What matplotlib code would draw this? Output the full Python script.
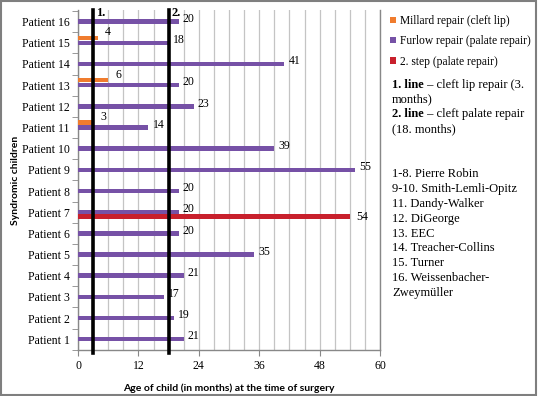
import numpy as np
import matplotlib.pyplot as plt
from matplotlib.patches import Rectangle

patients = [f"Patient {i}" for i in range(1, 17)]
furlow = [21, 19, 17, 21, 35, 20, 20, 20, 55, 39, 14, 23, 20, 41, 18, 20]
millard = [None, None, None, None, None, None, None, None, None, None, 3, None, 6, None, 4, None]
step2 = [None, None, None, None, None, None, 54, None, None, None, None, None, None, None, None, None]
guide_lines = [3, 18]
guide_labels = ["1.", "2."]
legend_labels = ["Millard repair (cleft lip)", "Furlow repair (palate repair)", "2. step (palate repair)"]
syndromes = ["1-8. Pierre Robin", "9-10. Smith-Lemli-Opitz", "11. Dandy-Walker", "12. DiGeorge",
             "13. EEC", "14. Treacher-Collins", "15. Turner", "16. Weissenbacher-", "Zweymüller"]

ORANGE = "#F07C2E"
PURPLE = "#7651A6"
RED = "#C8202C"
SERIF = "Liberation Serif"

W, H = 538, 396


def px(x, y):
    return x / W, 1 - y / H


fig = plt.figure(figsize=(W / 100, H / 100), dpi=100)
ax = fig.add_axes([78 / W, 1 - 350 / H, (380 - 78) / W, 340 / H])

y = np.arange(1, 17)

# bars
b_furlow = ax.barh(y, furlow, height=0.21, color=PURPLE, zorder=3)
m_idx = [i for i, v in enumerate(millard) if v is not None]
b_millard = ax.barh(y[m_idx] + 0.24, [millard[i] for i in m_idx], height=0.2, color=ORANGE, zorder=3)
s_idx = [i for i, v in enumerate(step2) if v is not None]
b_step = ax.barh(y[s_idx] - 0.22, [step2[i] for i in s_idx], height=0.24, color=RED, zorder=3)

# value labels
for yi, v in zip(y, furlow):
    ax.annotate(str(v), (v, yi), xytext=(3, 2), textcoords="offset points",
                va="center", fontsize=8.5, family=SERIF)
for i in m_idx:
    ax.annotate(str(millard[i]), (millard[i], y[i] + 0.24), xytext=(5, 4), textcoords="offset points",
                va="center", fontsize=8.5, family=SERIF)
for i in s_idx:
    ax.annotate(str(step2[i]), (step2[i], y[i] - 0.22), xytext=(5, 0), textcoords="offset points",
                va="center", fontsize=8.5, family=SERIF)

# guide lines
for gx, gl in zip(guide_lines, guide_labels):
    ax.axvline(gx, ymin=-0.01, ymax=1.0, color="black", lw=2.6, zorder=4, clip_on=False)
    ax.text(gx + 0.6, 16.42, gl, fontsize=9, fontweight="bold", family=SERIF, va="center", zorder=5)

ax.set_xlim(0, 60)
ax.set_ylim(0.49, 16.55)
ax.set_xticks(range(0, 61, 12))
ax.set_xticks(range(0, 61, 3), minor=True)
ax.grid(axis="x", which="both", color="#c4c4c4", lw=0.9, zorder=0)
ax.set_yticks(y)
ax.set_yticklabels(patients, family=SERIF, fontsize=8.5)
ax.set_yticks(np.arange(0.5, 16.6, 1), minor=True)
ax.tick_params(axis="y", which="major", length=0, pad=6)
ax.tick_params(axis="y", which="minor", length=4, color="#888888")
ax.tick_params(axis="x", which="major", length=4, color="#888888", labelsize=8.5)
ax.tick_params(axis="x", which="minor", length=0)
for lab in ax.get_xticklabels():
    lab.set_family(SERIF)

ax.spines["top"].set_visible(False)
for s in ["left", "bottom", "right"]:
    ax.spines[s].set_color("#888888")
    ax.spines[s].set_linewidth(1)

ax.set_xlabel("Age of child (in months) at the time of surgery", family="Lato",
              fontweight="bold", fontsize=7.5, labelpad=8)
ax.set_ylabel("Syndromic children", family="Lato", fontweight="bold", fontsize=7.5, labelpad=1)

# legend
fig.legend([b_millard, b_furlow, b_step], legend_labels, loc="upper left",
           bbox_to_anchor=px(390, 15), frameon=False, prop={"family": SERIF, "size": 8.3},
           handlelength=0.5, handleheight=0.5, handletextpad=0.4, labelspacing=0.72,
           borderpad=0, borderaxespad=0)

# notes on the right
notes = [(85, "1. line", " – cleft lip repair (3."), (99, None, "months)"),
         (114, "2. line", " – cleft palate repair"), (129, None, "(18. months)")]
for ny, bold, rest in notes:
    if bold:
        t = fig.text(*px(392, ny), bold, fontweight="bold", family=SERIF, fontsize=9, va="center")
        ax.annotate(rest, xy=(1, 0), xycoords=t, va="bottom", ha="left",
                    family=SERIF, fontsize=9, annotation_clip=False)
    else:
        fig.text(*px(392, ny), rest, family=SERIF, fontsize=9, va="center")

for k, s in enumerate(syndromes):
    fig.text(*px(392, 174 + k * 14.9), s, family=SERIF, fontsize=9, va="center")

fig.add_artist(Rectangle((0.002, 0.003), 0.995, 0.994, transform=fig.transFigure,
                         fill=False, edgecolor="#7f7f7f", lw=1.5))

fig.savefig("out.png", dpi=100)
